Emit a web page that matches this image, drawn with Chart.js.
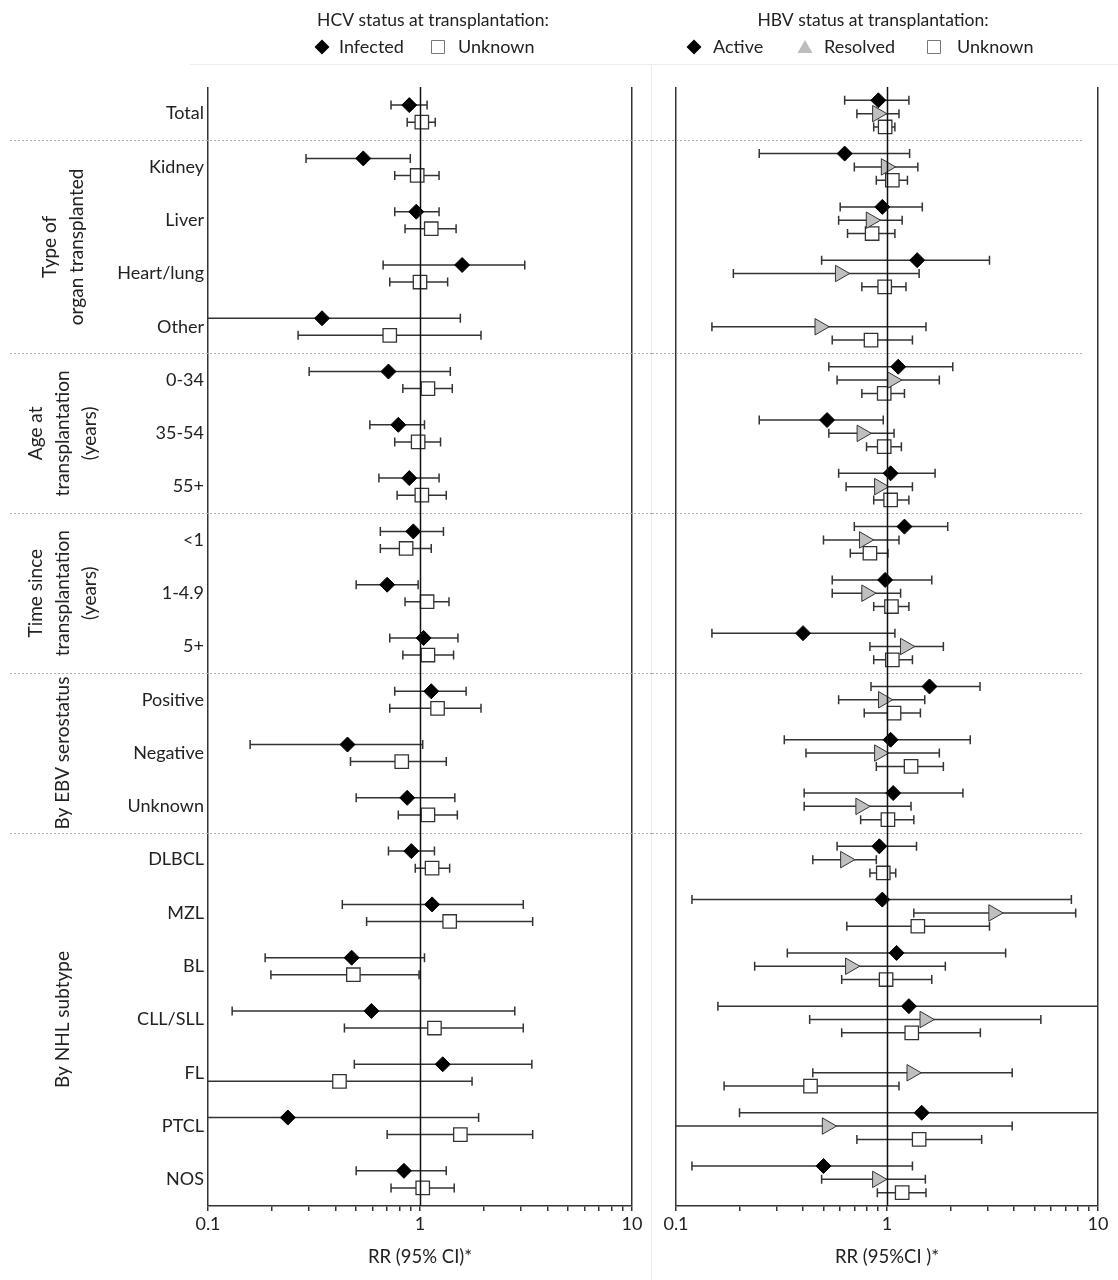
<!DOCTYPE html>
<html>
<head>
<meta charset="utf-8">
<title>NHL risk by HCV / HBV status</title>
<script src="https://cdn.jsdelivr.net/npm/chart.js@4.4.0/dist/chart.umd.min.js"></script>
<style>
  html, body { margin: 0; padding: 0; background: #fff; }
  #wrap { position: relative; width: 1118px; height: 1280px; }
  .panel { position: absolute; top: 0; height: 1280px; }
  #left { left: 0; width: 652px; }
  #right { left: 652px; width: 466px; }
</style>
</head>
<body>
<div id="wrap">
  <div class="panel" id="left"><canvas id="hcvChart"></canvas></div>
  <div class="panel" id="right"><canvas id="hbvChart"></canvas></div>
</div>
<script>
// rows, top to bottom
const categories = ['Total', 'Kidney', 'Liver', 'Heart/lung', 'Other', '0-34', '35-54', '55+',
  '<1', '1-4.9', '5+', 'Positive', 'Negative', 'Unknown', 'DLBCL', 'MZL', 'BL', 'CLL/SLL',
  'FL', 'PTCL', 'NOS'];

const groups = [
  { lines: ['Type of', 'organ transplanted'], first: 1, last: 4 },
  { lines: ['Age at', 'transplantation', '(years)'], first: 5, last: 7 },
  { lines: ['Time since', 'transplantation', '(years)'], first: 8, last: 10 },
  { lines: ['By EBV serostatus'], first: 11, last: 13 },
  { lines: ['By NHL subtype'], first: 14, last: 20 }
];

const xTicks = [0.1, 0.2, 0.3, 0.4, 0.5, 0.6, 0.7, 0.8, 0.9, 1, 2, 3, 4, 5, 6, 7, 8, 9, 10];
const majorTicks = [0.1, 1, 10];
const referenceValue = 1;

// HCV status: RR and 95% CI (values beyond 0.1..10 run off the axis)
const hcvInfected   = [0.89, 0.54, 0.96, 1.58, 0.345, 0.71, 0.79, 0.89, 0.93, 0.70, 1.04, 1.13, 0.455, 0.87, 0.91, 1.14, 0.476, 0.59, 1.28, 0.238, 0.84];
const hcvInfectedLo = [0.73, 0.29, 0.76, 0.67, 0.08, 0.30, 0.58, 0.64, 0.65, 0.50, 0.72, 0.76, 0.158, 0.50, 0.71, 0.43, 0.186, 0.13, 0.49, 0.07, 0.50];
const hcvInfectedHi = [1.08, 0.90, 1.23, 3.12, 1.55, 1.39, 1.05, 1.23, 1.29, 0.98, 1.51, 1.65, 1.03, 1.46, 1.17, 3.07, 1.05, 2.80, 3.37, 1.89, 1.33];

const hcvUnknown   = [1.02, 0.97, 1.13, 1.00, 0.72, 1.09, 0.98, 1.02, 0.86, 1.08, 1.09, 1.21, 0.82, 1.09, 1.14, 1.38, 0.485, 1.17, 0.417, 1.55, 1.03];
const hcvUnknownLo = [0.87, 0.76, 0.85, 0.72, 0.266, 0.83, 0.76, 0.78, 0.65, 0.85, 0.83, 0.72, 0.47, 0.79, 0.95, 0.56, 0.198, 0.44, 0.08, 0.70, 0.73];
const hcvUnknownHi = [1.18, 1.23, 1.48, 1.35, 1.94, 1.42, 1.25, 1.33, 1.13, 1.37, 1.44, 1.94, 1.33, 1.50, 1.38, 3.40, 0.99, 3.07, 1.76, 3.40, 1.45];

// HBV status
const hbvActive   = [0.91, 0.63, 0.95, 1.39, null, 1.13, 0.52, 1.04, 1.21, 0.98, 0.40, 1.59, 1.04, 1.07, 0.92, 0.95, 1.11, 1.27, null, 1.46, 0.50];
const hbvActiveLo = [0.63, 0.248, 0.60, 0.49, null, 0.53, 0.248, 0.59, 0.70, 0.55, 0.148, 0.84, 0.326, 0.405, 0.58, 0.119, 0.337, 0.158, null, 0.20, 0.119];
const hbvActiveHi = [1.27, 1.28, 1.47, 3.06, null, 2.05, 0.96, 1.69, 1.94, 1.63, 1.09, 2.76, 2.48, 2.29, 1.38, 7.48, 3.65, 12, null, 12, 1.32];

const hbvResolved   = [0.90, 0.99, 0.84, 0.60, 0.48, 1.06, 0.76, 0.92, 0.78, 0.80, 1.22, 0.96, 0.92, 0.75, 0.635, 3.20, 0.67, 1.51, 1.31, 0.52, 0.90];
const hbvResolvedLo = [0.72, 0.70, 0.59, 0.187, 0.148, 0.58, 0.53, 0.64, 0.50, 0.55, 0.83, 0.59, 0.413, 0.405, 0.445, 1.34, 0.236, 0.43, 0.445, 0.08, 0.49];
const hbvResolvedHi = [1.14, 1.40, 1.18, 1.42, 1.53, 1.77, 1.08, 1.32, 1.14, 1.16, 1.85, 1.51, 1.77, 1.30, 0.89, 7.84, 1.89, 5.36, 3.92, 3.92, 1.52];

const hbvUnknown   = [0.98, 1.06, 0.85, 0.975, 0.84, 0.97, 0.97, 1.04, 0.83, 1.05, 1.06, 1.08, 1.30, 1.01, 0.96, 1.40, 0.99, 1.31, 0.434, 1.42, 1.18];
const hbvUnknownLo = [0.865, 0.89, 0.65, 0.76, 0.55, 0.76, 0.80, 0.865, 0.67, 0.865, 0.865, 0.78, 0.89, 0.75, 0.83, 0.645, 0.61, 0.61, 0.169, 0.72, 0.90];
const hbvUnknownHi = [1.09, 1.25, 1.09, 1.23, 1.32, 1.21, 1.17, 1.27, 1.01, 1.27, 1.32, 1.44, 1.85, 1.34, 1.10, 3.06, 1.63, 2.77, 1.14, 2.81, 1.53];

const TEXT = '#222';
const LINE = '#333';
const FONT = 'Lato, "Open Sans", sans-serif';
Chart.defaults.font.family = FONT;
Chart.defaults.font.size = 18;
Chart.defaults.color = TEXT;

const diamond = { pointStyle: 'rectRot', radius: 7.5, backgroundColor: '#000', borderColor: '#000', borderWidth: 1 };
const square = { pointStyle: 'rect', radius: 9.5, backgroundColor: '#fff', borderColor: LINE, borderWidth: 1.3 };
const triangle = { pointStyle: 'triangle', rotation: 90, radius: 9.5, backgroundColor: '#bfbfbf', borderColor: LINE, borderWidth: 1 };

function series(label, rr, lo, hi, offset, style) {
  const data = [], errLo = [], errHi = [];
  rr.forEach((v, i) => {
    if (v == null) return;
    data.push({ x: v, y: i + offset });
    errLo.push(lo[i]);
    errHi.push(hi[i]);
  });
  return Object.assign({ label, data, errLo, errHi, showLine: false }, style);
}

// whiskers, clipped at the plot edge without a cap
const errorBars = {
  id: 'errorBars',
  beforeDatasetsDraw(chart) {
    const { ctx, chartArea: a, scales: { x } } = chart;
    ctx.save();
    ctx.strokeStyle = LINE;
    ctx.lineWidth = 1.5;
    chart.data.datasets.forEach((ds, di) => {
      chart.getDatasetMeta(di).data.forEach((pt, j) => {
        let x1 = x.getPixelForValue(ds.errLo[j]);
        let x2 = x.getPixelForValue(ds.errHi[j]);
        const cap1 = x1 >= a.left, cap2 = x2 <= a.right;
        x1 = Math.max(x1, a.left);
        x2 = Math.min(x2, a.right);
        ctx.beginPath();
        ctx.moveTo(x1, pt.y);
        ctx.lineTo(x2, pt.y);
        if (cap1) { ctx.moveTo(x1, pt.y - 4.5); ctx.lineTo(x1, pt.y + 4.5); }
        if (cap2) { ctx.moveTo(x2, pt.y - 4.5); ctx.lineTo(x2, pt.y + 4.5); }
        ctx.stroke();
      });
    });
    ctx.restore();
  }
};

// RR = 1 line, on top of the markers
const refLine = {
  id: 'refLine',
  afterDatasetsDraw(chart) {
    const { ctx, chartArea: a, scales: { x } } = chart;
    const px = Math.round(x.getPixelForValue(referenceValue)) + 0.5;
    ctx.save();
    ctx.strokeStyle = '#111';
    ctx.lineWidth = 1.5;
    ctx.beginPath();
    ctx.moveTo(px, a.top);
    ctx.lineTo(px, a.bottom);
    ctx.stroke();
    ctx.restore();
  }
};

function panelDecor(opts) {
  return {
    id: 'panelDecor',
    beforeDatasetsDraw(chart) {
      const { ctx, scales: { y } } = chart;
      ctx.save();
      // faint figure borders
      ctx.strokeStyle = '#ececec';
      ctx.lineWidth = 1;
      ctx.beginPath();
      ctx.moveTo(opts.frameFrom, 64.5);
      ctx.lineTo(chart.width, 64.5);
      if (opts.frameRight) {
        ctx.moveTo(chart.width - 0.5, 64);
        ctx.lineTo(chart.width - 0.5, chart.height);
      }
      ctx.stroke();
      // dotted group separators
      ctx.strokeStyle = '#aaa';
      ctx.setLineDash([2, 2]);
      groups.forEach(g => {
        const py = Math.round(y.getPixelForValue(g.first - 0.5)) + 0.5;
        ctx.beginPath();
        ctx.moveTo(opts.sepFrom, py);
        ctx.lineTo(opts.sepTo, py);
        ctx.stroke();
      });
      ctx.restore();
    },
    afterDraw(chart) {
      const { ctx, scales: { y } } = chart;
      ctx.save();
      ctx.fillStyle = TEXT;
      ctx.textBaseline = 'middle';
      // legend
      ctx.font = '17.5px ' + FONT;
      ctx.textAlign = 'center';
      ctx.fillText(opts.title, opts.titleX, 20);
      ctx.font = '18px ' + FONT;
      ctx.textAlign = 'left';
      opts.items.forEach(it => {
        drawKey(ctx, it.shape, it.x, 47);
        ctx.fillStyle = TEXT;
        ctx.fillText(it.label, it.tx, 47);
      });
      // rotated group labels
      if (opts.groupLabels) {
        ctx.font = '19px ' + FONT;
        ctx.textAlign = 'center';
        groups.forEach(g => {
          const cy = y.getPixelForValue((g.first + g.last) / 2);
          ctx.save();
          ctx.translate(63, cy);
          ctx.rotate(-Math.PI / 2);
          g.lines.forEach((t, k) => ctx.fillText(t, 0, (k - (g.lines.length - 1) / 2) * 27));
          ctx.restore();
        });
      }
      ctx.restore();
    }
  };
}

function drawKey(ctx, shape, x, y) {
  ctx.save();
  ctx.beginPath();
  if (shape === 'diamond') {
    ctx.moveTo(x, y - 7.5); ctx.lineTo(x + 7.5, y); ctx.lineTo(x, y + 7.5); ctx.lineTo(x - 7.5, y);
    ctx.closePath();
    ctx.fillStyle = '#000';
    ctx.fill();
  } else if (shape === 'square') {
    ctx.rect(x - 6.5, y - 6.5, 13, 13);
    ctx.strokeStyle = '#777';
    ctx.lineWidth = 1;
    ctx.stroke();
  } else {
    ctx.moveTo(x, y - 7); ctx.lineTo(x + 7.5, y + 6); ctx.lineTo(x - 7.5, y + 6);
    ctx.closePath();
    ctx.fillStyle = '#bdbdbd';
    ctx.fill();
  }
  ctx.restore();
}

function xScale(title) {
  return {
    type: 'logarithmic',
    min: 0.1,
    max: 10,
    afterBuildTicks: s => { s.ticks = xTicks.map(v => ({ value: v, major: majorTicks.includes(v) })); },
    afterFit: s => { s.height = 74; },
    ticks: {
      autoSkip: false, maxRotation: 0, padding: 2, color: TEXT, font: { size: 18 },
      callback: v => majorTicks.includes(v) ? String(v) : ''
    },
    grid: {
      drawOnChartArea: true,
      color: c => (c.tick && (c.tick.value === 0.1 || c.tick.value === 10)) ? LINE : 'rgba(0,0,0,0)',
      tickColor: LINE,
      tickLength: 5,
      lineWidth: 1.5
    },
    border: { display: true, color: LINE, width: 1.5 },
    title: { display: true, text: title, color: TEXT, font: { size: 18.5 }, padding: { top: 4, bottom: 12 } }
  };
}

function yScale(show) {
  return {
    type: 'linear',
    min: -0.5,
    max: 20.5,
    reverse: true,
    display: show,
    afterBuildTicks: s => { s.ticks = categories.map((c, i) => ({ value: i })); },
    afterFit: s => { s.width = show ? 208 : 0; },
    ticks: { autoSkip: false, padding: 4, color: TEXT, font: { size: 18 }, callback: v => categories[v] },
    grid: { display: false, drawTicks: false },
    border: { display: false }
  };
}

const common = {
  responsive: true,
  maintainAspectRatio: false,
  animation: false,
  events: [],
  plugins: { legend: { display: false }, tooltip: { enabled: false } }
};

new Chart(document.getElementById('hcvChart'), {
  type: 'scatter',
  data: {
    datasets: [
      series('Infected', hcvInfected, hcvInfectedLo, hcvInfectedHi, -0.16, diamond),
      series('Unknown', hcvUnknown, hcvUnknownLo, hcvUnknownHi, 0.16, square)
    ]
  },
  options: Object.assign({}, common, {
    layout: { padding: { top: 87, right: 20, left: 0, bottom: 0 } },
    scales: { x: xScale('RR (95% CI)*'), y: yScale(true) }
  }),
  plugins: [errorBars, refLine, panelDecor({
    title: 'HCV status at transplantation:', titleX: 433,
    items: [
      { shape: 'diamond', x: 322, label: 'Infected', tx: 339 },
      { shape: 'square', x: 438, label: 'Unknown', tx: 458 }
    ],
    frameFrom: 190, frameRight: true, sepFrom: 10, sepTo: 652, groupLabels: true
  })]
});

new Chart(document.getElementById('hbvChart'), {
  type: 'scatter',
  data: {
    datasets: [
      series('Active', hbvActive, hbvActiveLo, hbvActiveHi, -0.25, diamond),
      series('Resolved', hbvResolved, hbvResolvedLo, hbvResolvedHi, 0, triangle),
      series('Unknown', hbvUnknown, hbvUnknownLo, hbvUnknownHi, 0.25, square)
    ]
  },
  options: Object.assign({}, common, {
    layout: { padding: { top: 87, right: 20, left: 24, bottom: 0 } },
    scales: { x: xScale('RR (95%CI )*'), y: yScale(false) }
  }),
  plugins: [errorBars, refLine, panelDecor({
    title: 'HBV status at transplantation:', titleX: 221,
    items: [
      { shape: 'diamond', x: 42, label: 'Active', tx: 61 },
      { shape: 'triangle', x: 153, label: 'Resolved', tx: 172 },
      { shape: 'square', x: 282, label: 'Unknown', tx: 305 }
    ],
    frameFrom: 0, frameRight: false, sepFrom: 0, sepTo: 431, groupLabels: false
  })]
});
</script>
</body>
</html>
